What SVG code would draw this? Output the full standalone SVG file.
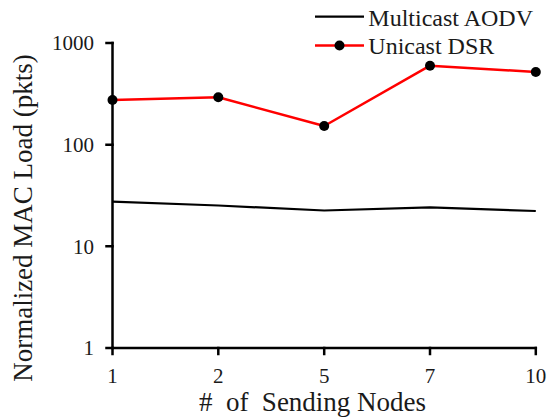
<svg xmlns="http://www.w3.org/2000/svg" width="547" height="419" viewBox="0 0 547 419">
  <style>
    text { font-family: "Liberation Serif", "Times New Roman", serif; fill: #1a1a1a; }
    .tick { font-size: 21px; }
    .ytick { text-anchor: end; }
    .xtick { text-anchor: middle; }
    .title { font-size: 27px; text-anchor: middle; }
    .legend { font-size: 24px; }
    .axis { stroke: #000; stroke-width: 2.5; fill: none; stroke-linecap: square; }
    .aodv { stroke: #000; stroke-width: 2.2; fill: none; stroke-linejoin: round; }
    .dsr { stroke: #ff0000; stroke-width: 2.5; fill: none; stroke-linejoin: round; }
    .dot { fill: #000; }
  </style>

  <rect width="547" height="419" fill="#fff"/>

  <!-- axes with tick marks -->
  <g id="axes">
    <path class="axis" d="M112.5 43 V348 H535.8"/>
    <path class="axis" d="M106.5 43 H112.5 M106.5 144.7 H112.5 M106.5 246.3 H112.5 M106.5 348 H112.5"/>
    <path class="axis" d="M112.5 348 V354 M218.3 348 V354 M324.2 348 V354 M430 348 V354 M535.8 348 V354"/>
  </g>

  <!-- axis tick labels -->
  <g id="y-ticks" class="tick ytick">
    <text x="94" y="50">1000</text>
    <text x="94" y="152">100</text>
    <text x="94" y="253.5">10</text>
    <text x="94" y="355">1</text>
  </g>
  <g id="x-ticks" class="tick xtick">
    <text x="112.5" y="383">1</text>
    <text x="218.3" y="383">2</text>
    <text x="324.2" y="383">5</text>
    <text x="430" y="383">7</text>
    <text x="535.8" y="383">10</text>
  </g>

  <!-- axis titles -->
  <text id="x-title" class="title" x="312.5" y="411" xml:space="preserve">#  of  Sending Nodes</text>
  <text id="y-title" class="title" transform="translate(31.5 218) rotate(-90)">Normalized MAC Load (pkts)</text>

  <!-- data series -->
  <g id="series">
    <polyline id="multicast-aodv" class="aodv" points="112.5,201.7 218.3,205.5 324.2,210.5 430,207.3 535.8,211"/>
    <g id="unicast-dsr">
      <polyline class="dsr" points="112.5,100 218.3,97.3 324.2,126 430,65.7 535.8,72"/>
      <circle class="dot" cx="112.5" cy="100" r="5"/>
      <circle class="dot" cx="218.3" cy="97.3" r="5"/>
      <circle class="dot" cx="324.2" cy="126" r="5"/>
      <circle class="dot" cx="430" cy="65.7" r="5"/>
      <circle class="dot" cx="535.8" cy="72" r="5"/>
    </g>
  </g>

  <!-- legend -->
  <g id="legend" class="legend">
    <line class="aodv" x1="315" y1="16.7" x2="364" y2="16.7"/>
    <text x="368.3" y="25.5">Multicast AODV</text>
    <line class="dsr" x1="315" y1="45.5" x2="364" y2="45.5"/>
    <circle class="dot" cx="339.5" cy="45.5" r="5"/>
    <text x="368.3" y="54">Unicast DSR</text>
  </g>
</svg>
